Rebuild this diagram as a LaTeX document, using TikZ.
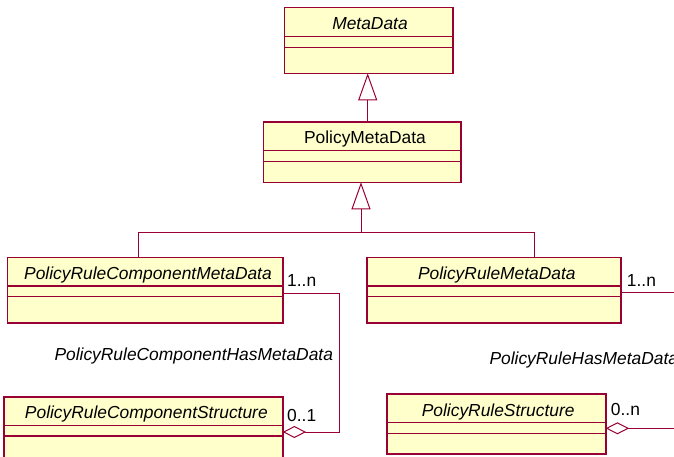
\documentclass[tikz,border=0pt]{standalone}
\usepackage{fontspec}
\setmainfont{Liberation Sans}
\usetikzlibrary{arrows.meta,calc}
\definecolor{umlline}{RGB}{153,0,51}
\definecolor{umlfill}{RGB}{255,255,204}
\begin{document}
\begin{tikzpicture}[x=1pt,y=-1pt,
  cls/.style={draw=umlline,fill=umlfill,line width=1.6pt,rectangle,inner sep=0pt,outer sep=0pt,anchor=north west},
  div/.style={draw=umlline,line width=1.2pt},
  title/.style={anchor=base,inner sep=0pt,font=\fontsize{17.4}{20}\selectfont},
  lbl/.style={anchor=base west,inner sep=0pt,font=\fontsize{17.4}{20}\selectfont},
  conn/.style={draw=umlline,line width=1pt},
  gen/.style={conn,-{Triangle[open,length=27pt,width=19pt,fill=white]}},
  agg/.style={conn,{Diamond[open,length=23.4pt,width=12pt,fill=white]}-}]
\useasboundingbox (0,0) rectangle (674,456);

% classes
\node[cls,minimum width=168.4pt,minimum height=66pt] (md) at (284.3,7.3) {};
\node[cls,minimum width=197.4pt,minimum height=60.6pt] (pmd) at (263.3,121.7) {};
\node[cls,minimum width=275.4pt,minimum height=65.4pt] (prcmd) at (7.3,257.3) {};
\node[cls,minimum width=254.3pt,minimum height=65.4pt] (prmd) at (366.7,257.3) {};
\node[cls,minimum width=278.7pt,minimum height=80pt] (prcs) at (4,396.7) {};
\node[cls,minimum width=219pt,minimum height=60pt] (prs) at (386.7,394) {};

% dividers
\foreach \n/\a/\b in {md/29.4/40.4,pmd/29/40,prcmd/28.7/39.4,prmd/28.7/39.4,prcs/29/39.3,prs/28.7/39.3}{
  \draw[div] ([yshift=-\a pt]\n.north west) -- ([yshift=-\a pt]\n.north east);
  \draw[div] ([yshift=-\b pt]\n.north west) -- ([yshift=-\b pt]\n.north east);
}

% titles
\node[title] (mdT) at ([xshift=1.5pt,yshift=-22pt]md.north) {\itshape MetaData};
\node[title] (pmdT) at ([xshift=3pt,yshift=-21.6pt]pmd.north) {PolicyMetaData};
\node[title] (prcmdT) at ([xshift=3pt,yshift=-22pt]prcmd.north) {\itshape PolicyRuleComponentMetaData};
\node[title] (prmdT) at ([xshift=3pt,yshift=-22pt]prmd.north) {\itshape PolicyRuleMetaData};
\node[title] (prcsT) at ([xshift=3pt,yshift=-22pt]prcs.north) {\itshape PolicyRuleComponentStructure};
\node[title] (prsT) at ([xshift=2pt,yshift=-22pt]prs.north) {\itshape PolicyRuleStructure};

% generalizations
\draw[gen] ([xshift=-0.8pt]pmd.north -| md.south) -- ([xshift=-0.8pt]md.south);
\coordinate (jl) at (138.7,232);
\coordinate (jr) at (534.7,232);
\coordinate (jm) at (361,232);
\draw[conn] (prcmd.north -| jl) -- (jl) -- (jr) -- (prmd.north -| jr);
\draw[gen] (jm) -- (pmd.south -| jm);

% associations
\coordinate (ya) at (0,293.3);
\coordinate (yb) at (0,432);
\coordinate (xa) at (339,0);
\coordinate (yc) at (0,292.7);
\coordinate (yd) at (0,428.3);
\coordinate (xe) at (676,0);
\draw[agg] (prcs.east |- yb) -- (xa |- yb) -- (xa |- ya) -- (prcmd.east |- ya);
\draw[conn] (prmd.east |- yc) -- (xe |- yc);
\draw[agg] (prs.east |- yd) -- (xe |- yd);

% labels
\node[lbl] (m1) at (287,286) {1..n};
\node[lbl] (m2) at (287,421) {0..1};
\node[lbl] (m3) at (626.7,286) {1..n};
\node[lbl] (m4) at (610.7,415) {0..n};
\node[lbl] (as1) at (54.3,360.7) {\itshape PolicyRuleComponentHasMetaData};
\node[lbl] (as2) at (489.3,364) {\itshape PolicyRuleHasMetaData};
\end{tikzpicture}
\end{document}
